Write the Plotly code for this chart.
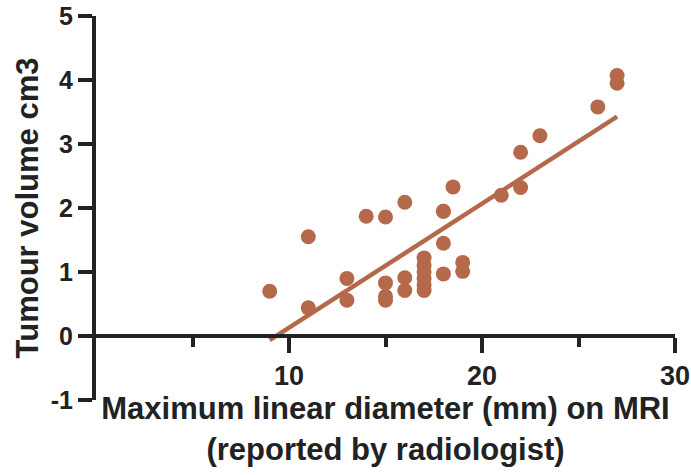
import numpy as np
import plotly.graph_objects as go

# Data: maximum linear diameter (mm) vs tumour volume (cm3)
diameter_mm = [9, 11, 11, 13, 13, 14, 15, 15, 15, 15, 16, 16, 16,
               17, 17, 17, 17, 17, 17, 18, 18, 18, 18, 18.5, 19, 19,
               21, 22, 22, 23, 26, 27, 27]
volume_cm3 = [0.70, 0.44, 1.55, 0.90, 0.56, 1.87, 1.86, 0.83, 0.62, 0.56, 2.09, 0.91, 0.71,
              1.22, 1.10, 1.00, 0.90, 0.80, 0.71, 1.95, 1.45, 0.97, 1.95, 2.33, 1.15, 1.01,
              2.20, 2.32, 2.87, 3.13, 3.58, 4.07, 3.95]

x_tickvals = [10, 20, 30]
x_ticktext = ["10", "20", "30"]
x_minor_tickvals = [5, 15, 25]
y_tickvals = [-1, 0, 1, 2, 3, 4, 5]
y_ticktext = ["-1", "0", "1", "2", "3", "4", "5"]

x_title = "Maximum linear diameter (mm) on MRI<br>(reported by radiologist)"
y_title = "Tumour volume cm3"

# Linear regression line
slope, intercept = np.polyfit(diameter_mm, volume_cm3, 1)
fit_x = np.array([min(diameter_mm), max(diameter_mm)])
fit_y = slope * fit_x + intercept

color = "#B5694B"
axis_color = "#222222"
font_family = "Liberation Sans, Arial, sans-serif"

fig = go.Figure()
fig.add_trace(go.Scatter(
    x=fit_x, y=fit_y, mode="lines",
    line=dict(color=color, width=4.5), showlegend=False, hoverinfo="skip"))
fig.add_trace(go.Scatter(
    x=diameter_mm, y=volume_cm3, mode="markers",
    marker=dict(color=color, size=15, line=dict(width=0)), showlegend=False))

fig.update_layout(
    width=691, height=475,
    margin=dict(l=96, r=16, t=16, b=75),
    paper_bgcolor="white", plot_bgcolor="white",
    font=dict(family=font_family, color=axis_color, size=26),
    xaxis=dict(
        range=[0, 30], anchor="free", position=1/6, automargin=False,
        showline=True, linecolor=axis_color, linewidth=4,
        showgrid=False, zeroline=False,
        tickmode="array", tickvals=x_tickvals, ticktext=x_ticktext,
        ticks="outside", ticklen=15, tickwidth=4, tickcolor=axis_color,
        tickfont=dict(size=27, family=font_family, weight="bold"),
        minor=dict(tickmode="array", tickvals=x_minor_tickvals, ticks="outside",
                   ticklen=9, tickwidth=4, tickcolor=axis_color, showgrid=False),
        title=dict(text=x_title, font=dict(size=31, family=font_family, weight="bold"),
                   standoff=4),
    ),
    yaxis=dict(
        range=[-1, 5], automargin=False,
        showline=True, linecolor=axis_color, linewidth=4,
        showgrid=False, zeroline=False,
        tickmode="array", tickvals=y_tickvals, ticktext=y_ticktext,
        ticks="outside", ticklen=14, tickwidth=4, tickcolor=axis_color,
        tickfont=dict(size=25, family=font_family, weight="bold"),
        title=dict(text=y_title, font=dict(size=31, family=font_family, weight="bold"),
                   standoff=4),
    ),
)

fig.write_html("out.html")
